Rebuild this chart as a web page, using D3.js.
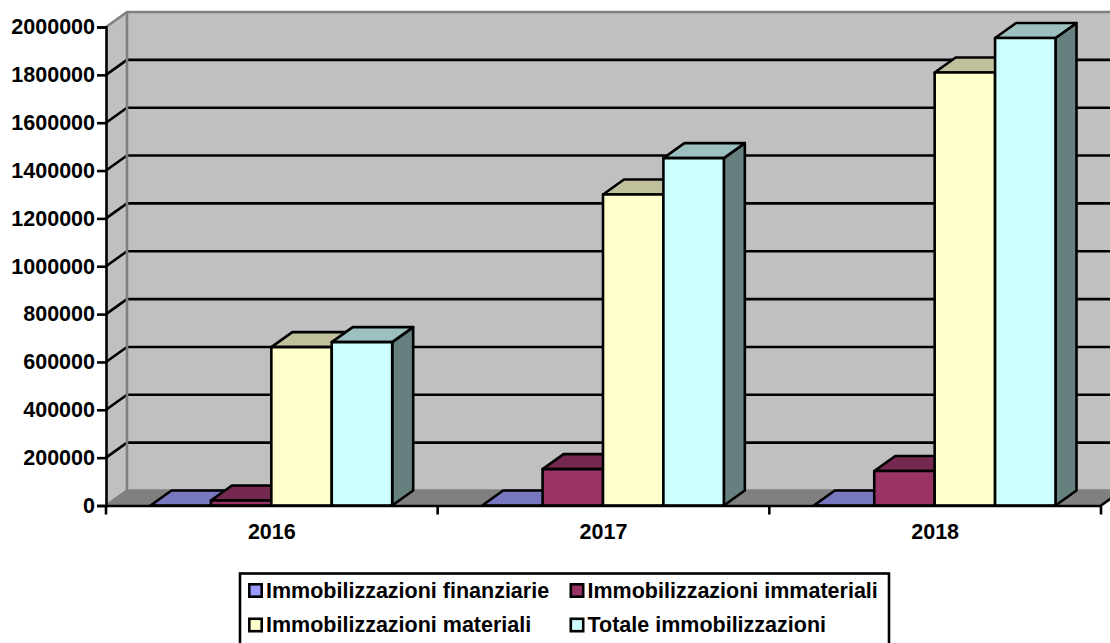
<!DOCTYPE html>
<html>
<head>
<meta charset="utf-8">
<script src="https://cdn.jsdelivr.net/npm/d3@7"></script>
<style>
body { margin: 0; background: #fff; overflow: hidden; }
text { font-family: "Liberation Sans", Arial, sans-serif; font-weight: bold; fill: #000; }
</style>
</head>
<body>
<svg id="chart" width="1110" height="643"></svg>
<script>
'use strict';

const years = ['2016', '2017', '2018'];
const seriesNames = ['Immobilizzazioni finanziarie', 'Immobilizzazioni immateriali', 'Immobilizzazioni materiali', 'Totale immobilizzazioni'];
const finanziarie = [0, 0, 0];
const immateriali = [21000, 152000, 144000];
const materiali = [662000, 1300000, 1810000];
const totale = [683000, 1452000, 1954000];
const yTicks = [0, 200000, 400000, 600000, 800000, 1000000, 1200000, 1400000, 1600000, 1800000, 2000000];
const frontColors = ['#9999ff', '#993366', '#ffffcc', '#ccffff'];
const topColors = ['#7878c0', '#752850', '#c0c09c', '#9cc0c0'];
const sideColors = ['#5c5c99', '#5c1f3d', '#99997a', '#668080'];

(function () {
    const seriesValues = [finanziarie, immateriali, materiali, totale];
    const width = 1110;
    const height = 643;
    const dx = 21; // 3d depth
    const dy = -15;
    const left = 106;
    const right = 1101;
    const bottom = 505.5;
    const top = 27;
    const stroke = 2.6;

    const svg = d3.select('#chart')
        .attr('viewBox', '0 0 ' + width + ' ' + height);

    const y = d3.scaleLinear().domain([0, 2000000]).range([bottom, top]);
    const x = d3.scaleBand().domain(years).range([left, right]);
    const xInner = d3.scaleBand().domain(d3.range(4)).range([44.5, x.bandwidth() - 45.5]);
    const line = d3.line();

    // walls and floor
    svg.append('path')
        .attr('fill', '#c0c0c0')
        .attr('d', line([[left, y(0)], [left, top], [left + dx, top + dy], [right + dx, top + dy], [right + dx, bottom + dy], [left + dx, bottom + dy]]) + 'Z');
    svg.append('path')
        .attr('fill', '#808080')
        .attr('d', line([[left, bottom], [left + dx, bottom + dy], [right + dx, bottom + dy], [right, bottom]]) + 'Z');

    // gridlines, the ones at 0 stay out
    svg.append('g').selectAll('path')
        .data(yTicks.slice(1, -1))
        .enter().append('path')
        .attr('fill', 'none')
        .attr('stroke', '#000')
        .attr('stroke-width', stroke)
        .attr('d', d => line([[left, y(d)], [left + dx, y(d) + dy], [right + dx, y(d) + dy]]));

    // gray frame of the back wall
    svg.append('path')
        .attr('fill', 'none')
        .attr('stroke', '#808080')
        .attr('stroke-width', stroke)
        .attr('d', line([[left, top], [left + dx, top + dy], [right + dx, top + dy]]) + line([[left + dx, top + dy], [left + dx, bottom + dy], [left + 2, bottom - 1.5]]) + line([[left + dx, bottom + dy], [right + dx, bottom + dy]]));

    // black edge of the floor on the right
    svg.append('path')
        .attr('fill', 'none')
        .attr('stroke', '#000')
        .attr('stroke-width', stroke)
        .attr('d', line([[right, bottom], [right + dx, bottom + dy]]));

    // bars
    years.forEach((year, c) => {
        const group = svg.append('g').attr('transform', 'translate(' + x(year) + ',0)');
        seriesValues.forEach((values, s) => {
            const x0 = xInner(s);
            const x1 = x0 + xInner.bandwidth();
            const yv = y(values[c]);
            const bar = group.append('g')
                .attr('stroke', '#000')
                .attr('stroke-width', stroke)
                .attr('stroke-linejoin', 'round');
            bar.append('path')
                .attr('fill', sideColors[s])
                .attr('d', line([[x1, bottom], [x1 + dx, bottom + dy], [x1 + dx, yv + dy], [x1, yv]]) + 'Z');
            bar.append('path')
                .attr('fill', topColors[s])
                .attr('d', line([[x0, yv], [x0 + dx, yv + dy], [x1 + dx, yv + dy], [x1, yv]]) + 'Z');
            bar.append('rect')
                .attr('fill', frontColors[s])
                .attr('x', x0)
                .attr('y', yv)
                .attr('width', xInner.bandwidth())
                .attr('height', bottom - yv);
        });
    });

    // axes
    const yAxis = svg.append('g')
        .attr('transform', 'translate(' + left + ',0)')
        .call(d3.axisLeft(y).tickValues(yTicks).tickFormat(d3.format('d')).tickSize(9).tickPadding(2));
    const xAxis = svg.append('g')
        .attr('transform', 'translate(0,' + bottom + ')')
        .call(d3.axisBottom(x).tickSize(0).tickPadding(18));
    xAxis.selectAll('.tick line').remove();
    xAxis.append('g').selectAll('line')
        .data(d3.range(4))
        .enter().append('line')
        .attr('x1', d => left + d * x.step())
        .attr('x2', d => left + d * x.step())
        .attr('y2', 9)
        .attr('stroke', '#000')
        .attr('stroke-width', stroke);
    [yAxis, xAxis].forEach(a => {
        a.selectAll('.domain').attr('stroke', '#000').attr('stroke-width', stroke);
        a.selectAll('.tick line').attr('stroke', '#000').attr('stroke-width', stroke);
        a.selectAll('text').attr('font-family', null).style('font-size', '21.5px');
    });

    // legend, its bottom edge falls outside the picture
    const legend = svg.append('g');
    legend.append('rect')
        .attr('x', 240).attr('y', 573.5)
        .attr('width', 649).attr('height', 80)
        .attr('fill', '#fff')
        .attr('stroke', '#000')
        .attr('stroke-width', stroke);
    const legendX = d3.scaleOrdinal().domain([0, 1]).range([249.3, 570.8]);
    const legendY = d3.scaleOrdinal().domain([0, 1]).range([590.5, 625]);
    const item = legend.selectAll('.item')
        .data(seriesNames)
        .enter().append('g')
        .attr('transform', (d, i) => 'translate(' + legendX(i % 2) + ',' + legendY(Math.floor(i / 2)) + ')');
    item.append('rect')
        .attr('x', 0).attr('y', -6.2)
        .attr('width', 12.4).attr('height', 12.4)
        .attr('fill', (d, i) => frontColors[i])
        .attr('stroke', '#000')
        .attr('stroke-width', stroke);
    item.append('text')
        .attr('x', 16.7)
        .attr('y', 7)
        .style('font-size', '21.5px')
        .text(d => d);
})();
</script>
</body>
</html>
